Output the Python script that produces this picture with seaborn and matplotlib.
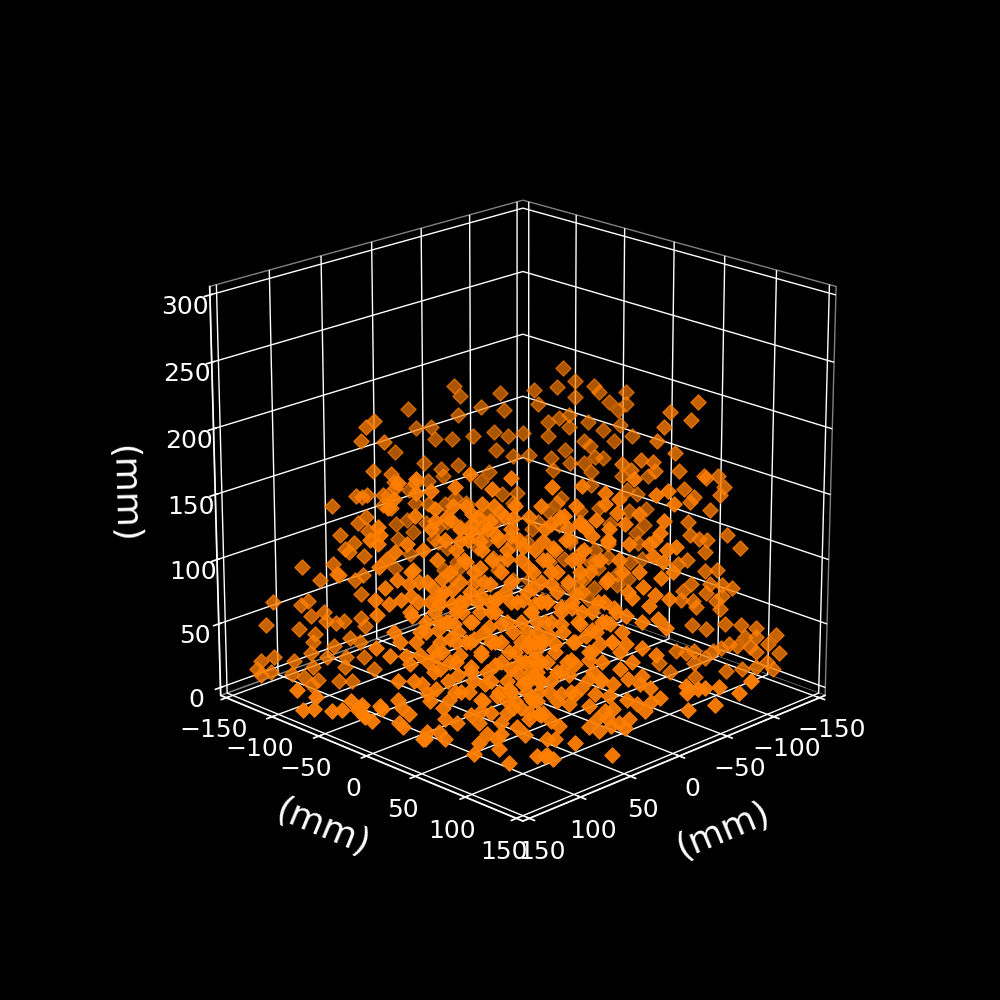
import matplotlib
matplotlib.use("Agg")
import matplotlib.pyplot as plt
import seaborn as sns

# far side of the cloud
back_x = [-96,-102,-81,-93,-63,-112,-115,-129,-102,-83,-65,-120,-125,-129,-88,-94,-99,-109,-99,-126,-117,-60,-75,-67,-88,-107,-110,-123,-132,-97,-78,-70,-61,-90,-113,-117,-100,-107,-91,-111,-57,-39,-42,-15,-19,-27,-41,-53,-29,-38,-49,-8,-23,-32,-41,
          -4,-1,-7,-15,-25,-18,-25,-34,-39,-33,-53,-64,-72,-8,-14,-24,-30,-42,-56,-80,-17,-9,-28,-49,-51,-70,-15,-35,-59,-41,-7,-33,-62,-38,-49,-70,
          -95,-111,-127,-141,-130,-135,-88,-105,-115,-131,-140,-94,-108,-121,-139,-135,-100,-120,-136,-113,-106,-97,-120,-138,-111,-132,-125,-115,-107,-131,-99,-125,-113,
          -45,-70,-93,-35,-60,-83,-105,-30,-55,-77,-100,-120,-40,-63,-89,-113,-50,-78,-105,-30,-60,-85,-110]
back_y = [-54,-48,-69,-57,-87,-38,-35,-21,-48,-67,-85,-30,-25,-21,-62,-56,-51,-41,-51,-24,-33,-90,-75,-83,-62,-43,-40,-27,-18,-53,-72,-80,-89,-60,-37,-33,-50,-43,-59,-39,-93,-111,-108,-135,-131,-123,-109,-97,-121,-112,-101,-142,-127,-118,-109,
          -146,-149,-143,-135,-125,-132,-125,-116,-111,-117,-97,-86,-78,-142,-136,-126,-120,-108,-94,-70,-133,-141,-122,-101,-99,-80,-135,-115,-91,-109,-143,-117,-88,-112,-101,-80,
          -55,-39,-23,-9,-20,-15,-62,-45,-35,-19,-10,-56,-42,-29,-11,-15,-50,-30,-14,-37,-44,-53,-30,-12,-39,-18,-25,-35,-43,-19,-51,-25,-37,
          -105,-80,-57,-115,-90,-67,-45,-120,-95,-73,-50,-30,-110,-87,-61,-37,-100,-72,-45,-120,-90,-65,-40]
back_z = [211,201,194,196,191,197,192,192,188,183,178,184,178,183,169,172,174,169,165,166,162,161,160,158,158,154,150,154,158,147,143,142,147,140,141,140,136,136,131,129,129,197,189,179,164,165,174,180,155,155,158,145,136,132,135,
          111,103,121,115,122,105,104,104,109,126,122,112,113,88,91,89,86,86,96,84,82,76,76,80,69,73,64,69,61,53,53,51,51,45,41,43,
          109,119,126,126,115,112,98,98,101,98,100,87,86,88,87,81,76,72,73,67,66,60,62,60,57,58,48,53,43,44,39,39,37,
          105,105,105,90,90,90,90,74,74,74,74,74,58,58,58,58,43,43,43,27,27,27,27]

# along the left/right edge of the picture
side_x = [75,79,82,70,76,67,-88,-74,-85,-71,-68,-77,-79,-92,-99,-67,-66,-60,-55,-50,
          55,65,79,85,71,97,67,84,93,89,97,113,104,95,128,132,114,110,109,115,102,101,92,96,83,81,107,108,89,97,84,135,128,137,130,135,118,109,101,108,91,82,92,77,119,113,106,95,88,109,
          -111,-104,-93,-95,-84,-85,-90,-94,-102,-100,-93,-99,-86,-96,-102,-107,-94,-102,-87,-99,-89,-101,-82,-81,-84,-79,-87,-85,-82,-93,
          -87,-94,-104,-112,-120,-114,-120,-130,-126,-132,-117,-120,-110,-106,-102,-98,-94,-88,-84,-79,-88,-105,-113,-120,-126,-129,-76,-70,-89,-118,
          82,80,79,86,91,81,94,86,82,83]
side_y = [-75,-79,-82,-70,-76,-67,88,74,85,71,68,77,79,92,99,67,66,60,55,50,
          -55,-65,-79,-85,-71,-97,-67,-84,-93,-89,-97,-113,-104,-95,-128,-132,-114,-110,-109,-115,-102,-101,-92,-96,-83,-81,-107,-108,-89,-97,-84,-135,-128,-137,-130,-135,-118,-109,-101,-108,-91,-82,-92,-77,-119,-113,-106,-95,-88,-109,
          111,104,93,95,84,85,90,94,102,100,93,99,86,96,102,107,94,102,87,99,89,101,82,81,84,79,87,85,82,93,
          87,94,104,112,120,114,120,130,126,132,117,120,110,106,102,98,94,88,84,79,88,105,113,120,126,129,76,70,89,118,
          -82,-80,-79,-86,-91,-81,-94,-86,-82,-83]
side_z = [206,201,191,190,168,166,220,213,207,201,191,182,168,164,164,168,175,176,169,173,
          159,155,150,149,150,141,140,128,119,106,97,94,84,89,67,49,65,68,56,46,59,52,52,51,55,48,42,36,39,33,36,21,24,15,12,10,21,27,24,16,24,24,16,15,11,8,6,5,5,2,
          109,119,106,138,129,119,116,115,156,150,91,92,81,81,80,78,74,72,68,68,63,62,76,69,100,97,148,144,154,163,
          49,46,50,49,47,40,40,41,34,27,32,28,33,34,31,29,23,29,27,29,19,13,15,16,20,15,12,19,8,5,
          148,133,122,113,108,103,88,84,88,73]

# near side, brightest part of the cloud
front_x = [138,141,136,127,127,120,118,109,108,101,90,81,95,128,118,110,100,80,146,145,150,146,138,142,132,100,95,88,75,106,146,129,137,143,131,126,115,120,103,96,83,72,91,70,148,141,135,130,116,110,103,96,88,75,116,110,69,
           61,46,35,21,28,10,4,1,55,35,29,18,61,53,47,39,33,25,6,8,41,23,13,10,0,4,65,60,63,48,28,11,6,1,7,47,58,18,33,61,16,10,49,35,21,3,63,56,30,13,51,
           147,130,126,139,148,141,131,137,129,125,126,122,119,111,117,109,101,92,86,99,116,106,96,89,81,82,73,70,112,107,101,94,82,75,118,
           102,96,88,71,122,121,112,115,137,135,132,145,137,135,114,108,101,91,80,76,72,97,93,86,78,74,123,124,117,114,67,
           56,47,41,32,24,16,8,4,37,44,51,59,62,36,42,49,56,27,24,27,16,9,30,23,17,16,36,42,52,46,32,39,49,56,62,52,42,34,30,38,33,22,27,31,24,42,37,57,61,59,63,12,7,11,14,18,23,
           68,66,68,67,71,73,68,66,76,81,91,66,61,86,76,66,74,81,91,86,96,101,81,66,69,71,106,116,96]
front_y = [12,9,14,23,23,30,32,41,42,49,60,69,55,22,32,40,50,70,4,5,0,4,12,8,18,50,55,62,75,44,4,21,13,7,19,24,35,30,47,54,67,78,59,80,2,9,15,20,34,40,47,54,62,75,34,40,81,
           89,104,115,129,122,140,146,149,95,115,121,132,89,97,103,111,117,125,144,142,109,127,137,140,150,146,85,90,87,102,122,139,144,149,143,103,92,132,117,89,134,140,101,115,129,147,87,94,120,137,99,
           3,20,24,11,2,9,19,13,21,25,24,28,31,39,33,41,49,58,64,51,34,44,54,61,69,68,77,80,38,43,49,56,68,75,32,
           48,54,62,79,28,29,38,35,13,15,18,5,13,15,36,42,49,59,70,74,78,53,57,64,72,76,27,26,33,36,83,
           94,103,109,118,126,134,142,146,113,106,99,91,88,114,108,101,94,123,126,123,134,141,120,127,133,134,114,108,98,104,118,111,101,94,88,98,108,116,120,112,117,128,123,119,126,108,113,93,89,91,87,138,143,139,136,132,127,
           82,84,82,83,79,77,82,84,74,69,59,84,89,64,74,84,76,69,59,64,54,49,69,84,81,79,44,34,54]
front_z = [185,179,197,200,190,191,178,180,194,204,193,201,182,173,169,170,174,171,165,159,155,152,146,141,152,167,164,159,150,154,135,133,125,119,122,124,126,120,139,134,141,134,122,119,110,107,110,113,114,118,110,114,111,110,107,107,107,
           194,195,190,200,185,188,191,182,173,182,175,174,167,164,167,170,163,167,169,160,158,152,152,155,150,148,154,149,140,141,140,143,139,131,127,131,131,131,126,122,120,114,115,109,112,111,109,105,104,106,104,
           99,98,86,86,74,68,62,49,49,47,69,64,73,81,88,92,94,90,92,81,58,69,69,61,58,71,76,66,49,54,56,47,43,47,43,
           41,35,38,36,39,34,35,29,35,29,24,28,17,14,20,17,23,25,29,29,20,17,9,17,14,8,10,5,10,5,24,
           92,92,88,92,98,94,96,89,77,83,65,77,84,64,65,62,56,58,77,71,74,69,47,51,47,53,50,51,54,44,38,39,39,39,41,32,30,26,28,20,21,20,17,15,13,14,11,15,19,5,5,44,36,33,26,32,35,
           94,79,64,49,101,86,34,23,79,109,101,109,94,79,64,64,49,41,169,176,154,161,158,49,79,56,109,94,101]

# extra marks where the middle of the cloud fills in solid
core_x = [103,89,79,66,49, 112,97,84,72,57, 120,106,92,81,64,44, 113,102,87,77,54,33, 124,108,95,83,69,59,45,
          117,104,90,76,65,51,37, 130,111,99,86,70,61,42,26, 122,106,94,81,66,53,34, 114,101,84,73,58,46,23,
          127,97,78,63,51,38, 119,105,89,71,56,41,29, 112,100,83,76,64,48,34, 123,107,94,80,68,55,39,
          103,89,72,65,50,31, 115,96,79,69,59,42, 108,86,74,63,53, 119,93,78,68,58,40, 100,83,72,61,
          109,87,73,67,51, 95,79,70,58, 83,72,65,
          131,123,136,128,116,108,118,111,101,91,113,133,101,91,106,96,83,108,121,91,
          46,36,26,41,31,21,49,36]
core_y = [47,61,71,84,101, 38,53,66,78,93, 30,44,58,69,86,106, 37,48,63,73,96,117, 26,42,55,67,81,91,105,
          33,46,60,74,85,99,113, 20,39,51,64,80,89,108,124, 28,44,56,69,84,97,116, 36,49,66,77,92,104,127,
          23,53,72,87,99,112, 31,45,61,79,94,109,121, 38,50,67,74,86,102,116, 27,43,56,70,82,95,111,
          47,61,78,85,100,119, 35,54,71,81,91,108, 42,64,76,87,97, 31,57,72,82,92,110, 50,67,78,89,
          41,63,77,83,99, 55,71,80,92, 67,78,85,
          19,27,14,22,34,42,32,39,49,59,37,17,49,59,44,54,67,42,29,59,
          104,114,124,109,119,129,101,114]
core_z = [180,180,180,180,180, 172,172,172,172,172, 163,163,163,163,163,163, 155,155,155,155,155,155, 148,148,148,148,148,148,148,
          140,140,140,140,140,140,140, 131,131,131,131,131,131,131,131, 124,124,124,124,124,124,124, 116,116,116,116,116,116,116,
          109,109,109,109,109,109, 101,101,101,101,101,101,101, 94,94,94,94,94,94,94, 86,86,86,86,86,86,86,
          79,79,79,79,79,79, 71,71,71,71,71,71, 64,64,64,64,64, 56,56,56,56,56,56, 49,49,49,49,
          41,41,41,41,41, 34,34,34,34, 25,25,25,
          101,94,79,79,79,79,68,64,79,79,94,68,60,49,41,26,34,101,109,109,
          101,94,86,71,79,64,79,49]

# sitting on the floor along the front rim
floor_x = [-48,-68,-70,-79,-87,-81,-95,-97,-118,148,141,135,129,113,116,126,104,125,126,120,112,124,126,124,116,98,110,101,86,88,84,81,83,52,50,78]
floor_y = [120,128,98,89,101,99,107,125,118,-76,-71,-59,-55,-63,-50,-34,-42,-87,-106,-48,-52,-38,-26,24,68,74,96,57,60,102,106,105,113,104,138,56]
floor_z = [4,4,4,4,4,4,4,4,5,4,4,4,4,4,4,4,4,4,4,4,4,4,4,4,4,4,4,4,4,4,4,4,4,4,4,4]

x_ticks = [-150, -100, -50, 0, 50, 100, 150]
y_ticks = [-150, -100, -50, 0, 50, 100, 150]
z_ticks = [0, 50, 100, 150, 200, 250, 300]

sns.set_theme(style="dark", rc={"axes.facecolor": "black", "figure.facecolor": "black"})
plt.style.use("dark_background")
plt.rcParams["axes3d.automargin"] = True
marker_color = sns.color_palette(["#ff7f00"])[0]

fig = plt.figure(figsize=(10, 10), dpi=100)
ax = fig.add_subplot(projection="3d")
# far marks drawn fainter, near ones nearly solid
ax.scatter(back_x, back_y, back_z, marker="D", s=60, color=marker_color, alpha=0.68, depthshade=False)
ax.scatter(side_x, side_y, side_z, marker="D", s=60, color=marker_color, alpha=0.78, depthshade=False)
ax.scatter(front_x + core_x, front_y + core_y, front_z + core_z, marker="D", s=60, color=marker_color, alpha=0.92, depthshade=False)
ax.scatter(floor_x, floor_y, floor_z, marker="D", s=60, color=marker_color, alpha=0.95, depthshade=False)
ax.view_init(elev=20, azim=45)
ax.set_xlim(-150, 150)
ax.set_ylim(-150, 150)
ax.set_zlim(0, 300)
ax.set_box_aspect((1, 1, 1), zoom=0.95)
ax.set_xticks(x_ticks)
ax.set_yticks(y_ticks)
ax.set_zticks(z_ticks)
ax.tick_params(labelsize=18)
ax.set_xlabel("(mm)", fontsize=26, labelpad=19)
ax.set_ylabel("(mm)", fontsize=26, labelpad=18)
ax.set_zlabel("(mm)", fontsize=26, labelpad=22)
for a in (ax.xaxis, ax.yaxis, ax.zaxis):
    a.set_pane_color((0, 0, 0, 1))
    a.pane.set_edgecolor("#808080")
    a.set_rotate_label(True)
fig.savefig("out.png", facecolor="black")
